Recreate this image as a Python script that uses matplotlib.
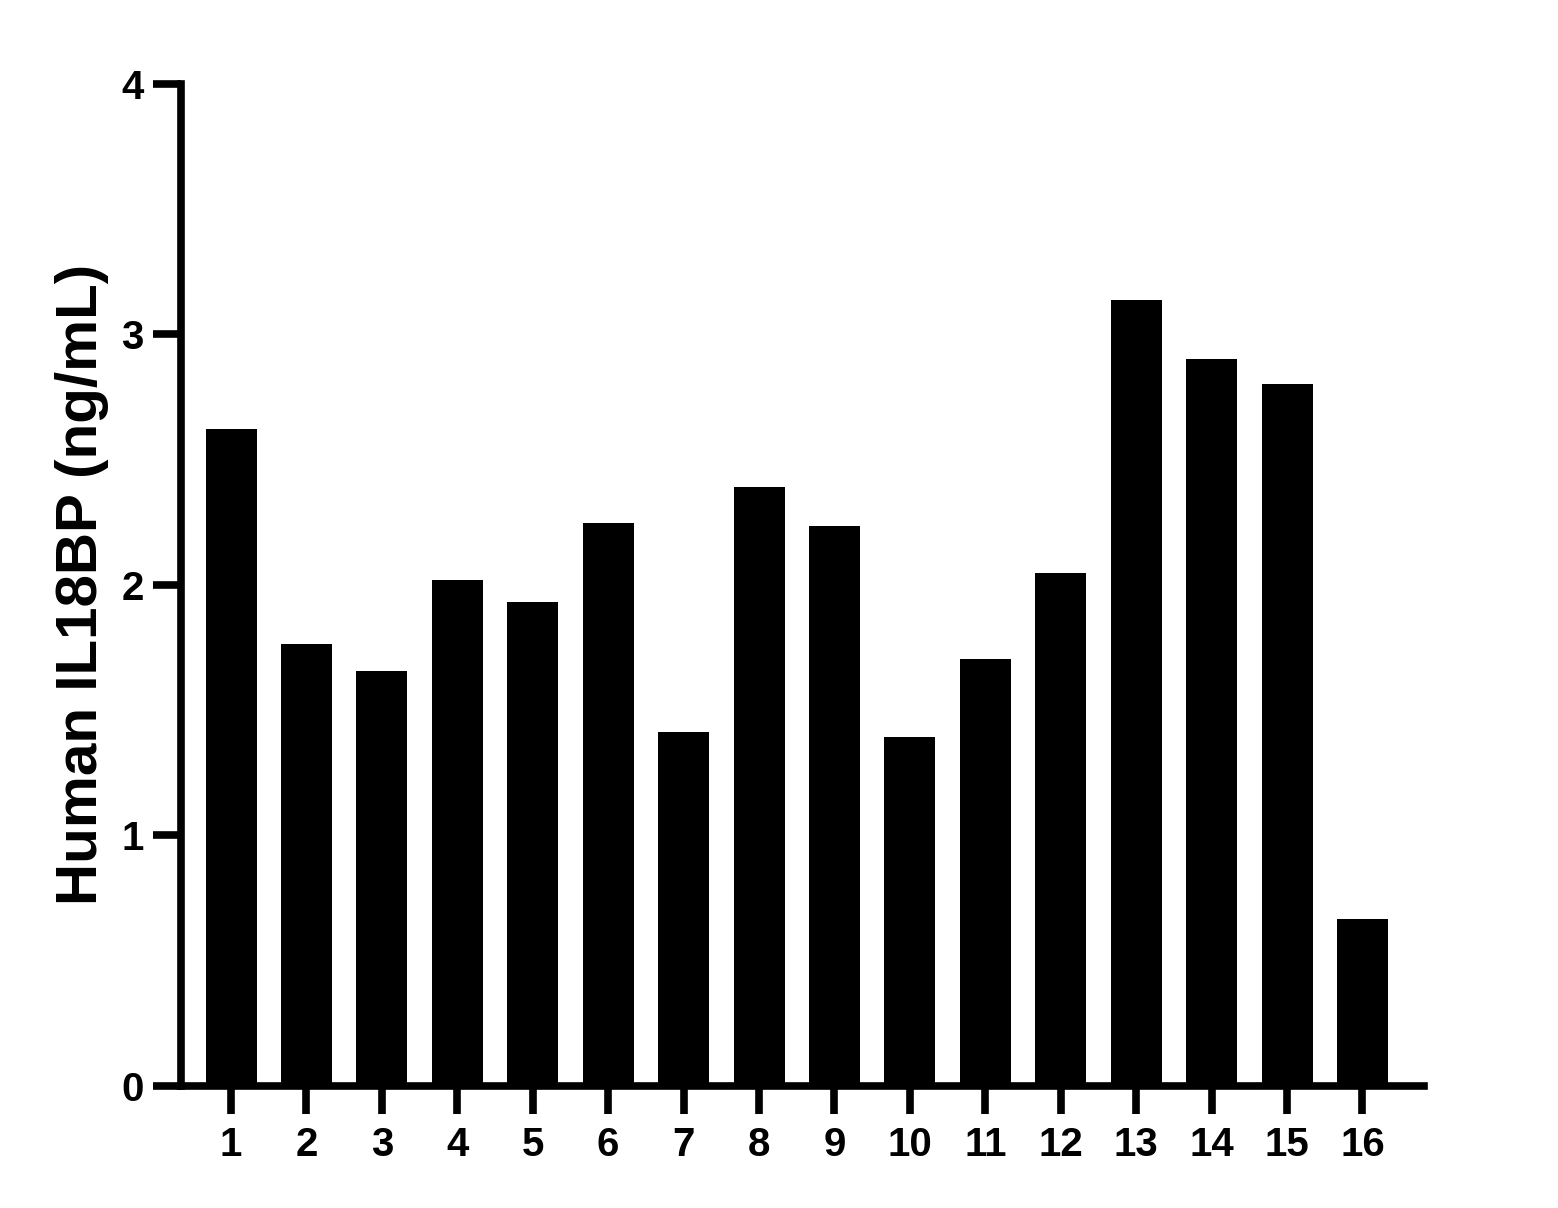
import matplotlib
matplotlib.use("Agg")
import matplotlib.pyplot as plt

plt.rcParams['font.family'] = ['Liberation Sans', 'DejaVu Sans']
plt.rcParams['font.weight'] = 'bold'

samples = [str(i) for i in range(1, 17)]
il18bp = [2.621, 1.762, 1.654, 2.018, 1.930, 2.246, 1.411, 2.391,
          2.234, 1.391, 1.702, 2.046, 3.137, 2.901, 2.801, 0.666]
y_ticks = [0, 1, 2, 3, 4]

fig = plt.figure(figsize=(15.58, 12.08), dpi=100)
ax = fig.add_axes([0.1162, 0.1014, 0.9140 - 0.1162, 0.9305 - 0.1014])

pos = list(range(1, len(samples) + 1))
ax.bar(pos, il18bp, width=0.676, color='black', edgecolor='none')

ax.set_xlim(0.337, 16.816)
ax.set_ylim(0, 4)
ax.set_xticks(pos)
ax.set_xticklabels(samples)
ax.set_yticks(y_ticks)
ax.set_yticklabels([str(t) for t in y_ticks])

for s in ('top', 'right'):
    ax.spines[s].set_visible(False)
for s in ('left', 'bottom'):
    ax.spines[s].set_linewidth(5.5)
    ax.spines[s].set_capstyle('projecting')

ax.tick_params(axis='both', length=20, width=5.5, labelsize=29, color='black')
ax.tick_params(axis='y', pad=7)
ax.tick_params(axis='x', pad=9)
for lab in ax.get_xticklabels() + ax.get_yticklabels():
    lab.set_fontweight('bold')

ax.set_ylabel('Human IL18BP (ng/mL)', fontsize=42, fontweight='bold')
ax.yaxis.set_label_coords(-0.058, 0.5)

fig.savefig('out.png', dpi=100)
